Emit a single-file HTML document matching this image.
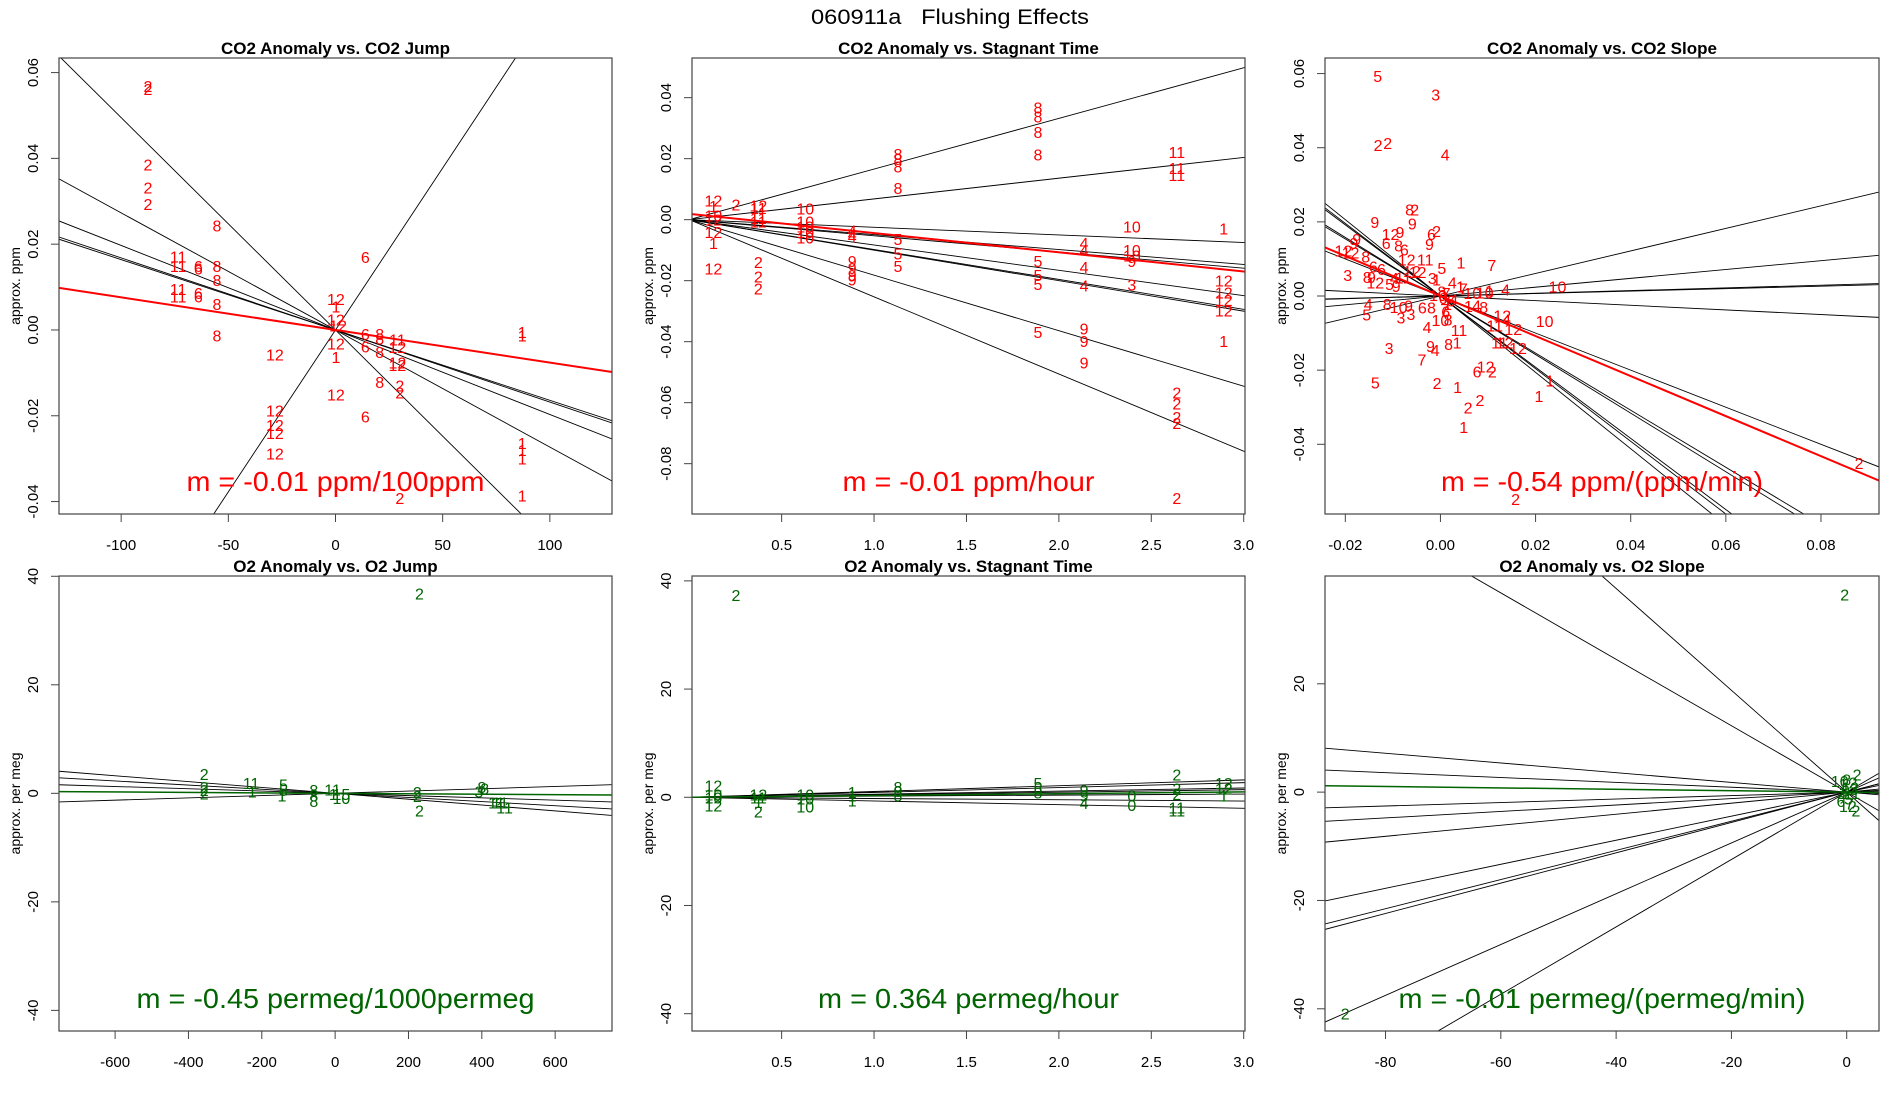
<!DOCTYPE html>
<html><head><meta charset="utf-8"><style>
html,body{margin:0;padding:0;background:#fff;}
svg{display:block;font-family:"Liberation Sans",sans-serif;}
</style></head><body>
<svg id="chart" width="1900" height="1100" viewBox="0 0 1900 1100" xmlns="http://www.w3.org/2000/svg">
<text x="950" y="24" font-size="21" text-anchor="middle" textLength="278" lengthAdjust="spacingAndGlyphs">060911a&#160;&#160;&#160;Flushing Effects</text>
</svg>
<script>
// ---------- Panel 1: CO2 Anomaly vs CO2 Jump ----------
const p1X = [-87.5,-87.5,-87.5,-87.5,-87.5,-55.3,-73.4,-73.4,-64,-64,-55.3,-55.3,-73.4,-73.4,-64,-64,-55.3,-55.3,13.9,0.2,0.2,0.2,1.2,0.2,0.2,-28.3,0.2,-28.3,-28.3,-28.3,-28.3,13.9,13.9,13.9,20.6,20.6,20.6,20.6,28.9,28.9,28.9,28.9,30,30,87.1,87.1,87.1,87.1,87.1,87.1,30];
const p1Y = [0.0569,0.0562,0.0386,0.0332,0.0294,0.0243,0.0171,0.0149,0.0149,0.0143,0.0149,0.0116,0.0096,0.0078,0.0086,0.0078,0.006,-0.0013,0.017,0.0072,0.0055,0.0024,0.001,-0.0032,-0.0063,-0.0057,-0.015,-0.0188,-0.0221,-0.024,-0.0288,-0.0202,-0.0009,-0.0038,-0.0009,-0.002,-0.0051,-0.0121,-0.0022,-0.004,-0.0076,-0.0082,-0.013,-0.0146,-0.0013,-0.0005,-0.0263,-0.028,-0.03,-0.0386,-0.0392];
const p1Lab = ["2","2","2","2","2","8","11","11","6","6","8","8","11","11","6","6","8","8","6","12","1","12","12","12","1","12","12","12","12","12","12","6","6","6","8","8","8","8","11","12","12","12","2","2","1","1","1","1","1","1","2"];
const p1Slopes = [-0.000495,0.000755,-0.000273,-0.000197,-0.000168,-0.000164];
const p1Fit = [0,-0.000076];
// ---------- Panel 2: CO2 Anomaly vs Stagnant Time ----------
const p2X = [0.131,0.131,0.131,0.131,0.131,0.131,0.131,0.253,0.374,0.374,0.374,0.374,0.374,0.374,0.374,0.628,0.628,0.628,0.628,0.628,0.882,0.882,0.882,0.882,0.882,0.882,0.882,1.129,1.129,1.129,1.129,1.129,1.129,1.129,1.887,1.887,1.887,1.887,1.887,1.887,1.887,1.887,2.136,2.136,2.136,2.136,2.136,2.136,2.136,2.395,2.395,2.395,2.395,2.395,2.638,2.638,2.638,2.638,2.638,2.638,2.638,2.638,2.892,2.892,2.892,2.892,2.892,2.892];
const p2Y = [0.0062,0.0045,0.0014,0,-0.0041,-0.0076,-0.016,0.0049,0.0047,0.0038,0.0006,-0.0006,-0.0138,-0.0187,-0.0226,0.0037,-0.0006,-0.0023,-0.0041,-0.0058,-0.0035,-0.0047,-0.0055,-0.0135,-0.0158,-0.0181,-0.0196,0.0216,0.0199,0.0175,0.0103,-0.0064,-0.0111,-0.0152,0.0368,0.0339,0.0287,0.0214,-0.0135,-0.0181,-0.0211,-0.0368,-0.0076,-0.0099,-0.0156,-0.0216,-0.0357,-0.0398,-0.0468,-0.0023,-0.0099,-0.0117,-0.0135,-0.0213,0.0222,0.017,0.0146,-0.0567,-0.0602,-0.0647,-0.0667,-0.0912,-0.0029,-0.0199,-0.0239,-0.0263,-0.0298,-0.0398];
const p2Lab = ["12","1","10","12","12","1","12","2","12","11","11","11","2","2","2","10","10","10","10","10","4","4","4","9","9","9","9","8","8","8","8","5","5","5","8","8","8","8","5","5","5","5","4","4","4","4","9","9","9","10","10","10","9","3","11","11","11","2","2","2","2","2","1","12","12","12","12","1"];
const p2Slopes = [0.0166,0.0068,-0.0025,-0.0049,-0.0053,-0.0083,-0.0098,-0.0100,-0.0182,-0.0253];
const p2Fit = [0.0019,-0.0063];
// ---------- Panel 3: CO2 Anomaly vs CO2 Slope ----------
const p3X = [-0.0132,-0.001,-0.0131,-0.0111,0.001,-0.0065,-0.0054,-0.0138,-0.0059,-0.0105,-0.0085,-0.0019,-0.0008,-0.0023,-0.0114,-0.0088,-0.0076,-0.0176,-0.0182,-0.0204,-0.0189,-0.0157,-0.0071,-0.0032,0.0043,0.0108,0.0003,-0.0141,-0.0124,-0.006,-0.0048,-0.0195,-0.0154,-0.0145,-0.0137,-0.0107,-0.0093,-0.0097,-0.0078,-0.0017,-0.0008,0.0025,0.0042,0.0048,0.0067,0.0093,0.0103,0.0137,0.0246,-0.0152,-0.0155,-0.0112,-0.0088,-0.0067,-0.0083,-0.0062,-0.0038,-0.0019,-0.0028,0,0.0016,0.0011,0.0039,0.0059,0.0076,0.0091,0.0219,0.013,0.0139,0.0153,0.0114,0.0124,0.0135,0.0163,-0.0021,-0.0011,0.0017,0.0035,-0.0108,-0.0039,0.0095,0.0077,0.0109,-0.0137,-0.0007,0.0036,0.023,0.0207,0.0083,0.0058,0.0049,0.088,0.0158,0.0006,0.0012,0.0022,0.0003,0.0015,0.0028,-0.0005,0.0009];
const p3Y = [0.0593,0.0543,0.0408,0.0413,0.0382,0.0234,0.0234,0.02,0.0196,0.0167,0.0173,0.0167,0.0176,0.014,0.0143,0.0136,0.0126,0.0154,0.0143,0.0123,0.0118,0.0106,0.0099,0.0099,0.009,0.0083,0.0075,0.008,0.0073,0.0068,0.0065,0.0056,0.0051,0.0051,0.0037,0.0032,0.0027,0.0048,0.005,0.0048,0.0045,0.0037,0.0025,0.002,0.0008,0.001,0.0015,0.0017,0.0025,-0.0021,-0.005,-0.0021,-0.0029,-0.0026,-0.0058,-0.0048,-0.0031,-0.0031,-0.0084,-0.0065,-0.0063,-0.0042,-0.0092,-0.0027,-0.0025,-0.003,-0.0067,-0.0053,-0.0063,-0.0089,-0.0079,-0.0125,-0.0125,-0.014,-0.0135,-0.0145,-0.013,-0.0125,-0.014,-0.0171,-0.019,-0.0204,-0.0204,-0.0233,-0.0235,-0.0245,-0.0228,-0.027,-0.0281,-0.0301,-0.0354,-0.045,-0.0547,-0.0005,0.0008,-0.0012,0.0012,-0.0022,-0.0009,0.0003,-0.0035];
const p3Lab = ["5","3","2","2","4","8","2","9","9","12","9","6","2","9","6","8","6","9","9","12","12","8","12","11","1","7","5","6","6","12","12","3","8","9","12","5","9","4","11","3","1","4","1","7","10","10","1","4","10","4","5","8","10","9","3","3","6","8","4","10","8","6","11","1","4","8","10","12","4","12","11","11","12","12","9","4","8","1","3","7","12","6","2","5","2","1","1","1","2","2","1","2","2","0","7","6","8","1","4","10","7"];
const p3Slopes = [0.304,0.119,0.0365,0.033,-0.0625,-0.50,-1.03,-0.98,-0.96,-0.79,-0.77];
const p3Fit = [0,-0.54];
// ---------- Panel 4: O2 Anomaly vs O2 Jump ----------
const p4X = [230,-357,-357,-357,-357,-229,-226,-141,-141,-145,-58,-58,-58,-7,-5,17,17,224,224,230,400,408,392,450,462,440];
const p4Y = [36.8,3.55,1.2,0.6,0,1.9,0.3,1.6,0.6,-0.4,0.6,-0.4,-1.4,0.7,-0.1,-0.1,-0.9,0.2,-0.5,-3.2,1.2,0.9,0.3,-1.7,-2.6,-1.7];
const p4Lab = ["2","2","2","2","2","11","1","5","5","1","8","8","8","11","1","15","10","2","2","2","8","8","3","11","11","11"];
const p4Slopes = [-0.0054,-0.0038,-0.0021,0.0021];
const p4Fit = [0,-0.00042];
// ---------- Panel 5: O2 Anomaly vs Stagnant Time ----------
const p5X = [0.253,0.131,0.131,0.131,0.131,0.374,0.374,0.374,0.374,0.628,0.628,0.628,0.882,0.882,0.882,1.129,1.129,1.129,1.887,1.887,1.887,2.136,2.136,2.136,2.395,2.395,2.638,2.638,2.638,2.638,2.638,2.892,2.892,2.892];
const p5Y = [37.4,2.2,0.5,0,-1.5,0.5,0,-0.9,-2.6,0.5,-0.2,-1.7,1,0.3,-0.6,1.9,1.2,0.3,2.6,1.6,0.9,1.3,0.3,-1.1,0.3,-1.4,4.2,1.6,0.6,-1.9,-2.4,2.6,1.6,0.3];
const p5Lab = ["2","12","10","10","12","12","11","1","2","10","10","10","1","1","1","8","8","8","5","5","8","9","9","4","0","0","2","2","2","11","11","12","12","1"];
const p5Slopes = [1.07,0.9,0.57,0.47,0.2,-0.23,-0.68];
const p5Fit = [0,0.33];
// ---------- Panel 6: O2 Anomaly vs O2 Slope ----------
const p6X = [-0.35,-87,1.8,1.6,-1.2,-0.6,0,0.6,1.1,-0.8,0.3,0.9,-0.2,0.5,1.3,-1,0.2];
const p6Y = [36.5,-40.9,3.3,-3.4,2.1,1.5,2.3,0.9,1.8,-0.6,-1.2,-0.2,0.3,-2.1,0.6,-1.6,-2.6];
const p6Lab = ["2","2","2","2","10","1","8","12","2","4","5","11","0","7","3","6","12"];
const p6Slopes = [-0.94,-0.613,-0.0897,-0.045,0.032,0.0595,0.102,0.222,0.269,0.28,0.469,0.622];
const p6Fit = [0,-0.013];

// ---------- tick arrays ----------
const p1XTicks = [-100,-50,0,50,100];
const p1YTicks = [-0.04,-0.02,0,0.02,0.04,0.06];
const p2XTicks = [0.5,1,1.5,2,2.5,3];
const p2YTicks = [-0.08,-0.06,-0.04,-0.02,0,0.02,0.04];
const p3XTicks = [-0.02,0,0.02,0.04,0.06,0.08];
const p3YTicks = [-0.04,-0.02,0,0.02,0.04,0.06];
const p4XTicks = [-600,-400,-200,0,200,400,600];
const p4YTicks = [-40,-20,0,20,40];
const p5XTicks = [0.5,1,1.5,2,2.5,3];
const p5YTicks = [-40,-20,0,20,40];
const p6XTicks = [-80,-60,-40,-20,0];
const p6YTicks = [-40,-20,0,20];

const NS = "http://www.w3.org/2000/svg";
const svg = document.getElementById('chart');
function mk(tag, attrs, parent){ const e=document.createElementNS(NS,tag); for(const k in attrs) e.setAttribute(k,attrs[k]); (parent||svg).appendChild(e); return e; }

const panels = [
 {id:1,L:59,R:612,T:58,B:514,xd:[-129,129],yd:[-0.0429,0.0634],xs:p1X,ys:p1Y,lab:p1Lab,sl:p1Slopes,fit:p1Fit,xt:p1XTicks,yt:p1YTicks,xf:v=>String(v),yf:v=>v.toFixed(2),col:"#ff0000",title:"CO2 Anomaly vs. CO2 Jump",ylab:"approx. ppm",m:"m = -0.01 ppm/100ppm",mw:298,fitW:2},
 {id:2,L:692,R:1245,T:58,B:514,xd:[0.015,3.007],yd:[-0.0965,0.053],xs:p2X,ys:p2Y,lab:p2Lab,sl:p2Slopes,fit:p2Fit,xt:p2XTicks,yt:p2YTicks,xf:v=>v.toFixed(1),yf:v=>v.toFixed(2),col:"#ff0000",title:"CO2 Anomaly vs. Stagnant Time",ylab:"approx. ppm",m:"m = -0.01 ppm/hour",mw:252,fitW:2},
 {id:3,L:1325,R:1879,T:58,B:514,xd:[-0.02427,0.0922],yd:[-0.0588,0.0642],xs:p3X,ys:p3Y,lab:p3Lab,sl:p3Slopes,fit:p3Fit,xt:p3XTicks,yt:p3YTicks,xf:v=>v.toFixed(2),yf:v=>v.toFixed(2),col:"#ff0000",title:"CO2 Anomaly vs. CO2 Slope",ylab:"approx. ppm",m:"m = -0.54 ppm/(ppm/min)",mw:322,fitW:2},
 {id:4,L:59,R:612,T:576,B:1031,xd:[-753,755],yd:[-43.8,40.05],xs:p4X,ys:p4Y,lab:p4Lab,sl:p4Slopes,fit:p4Fit,xt:p4XTicks,yt:p4YTicks,xf:v=>String(v),yf:v=>String(v),col:"#006400",title:"O2 Anomaly vs. O2 Jump",ylab:"approx. per meg",m:"m = -0.45 permeg/1000permeg",mw:398,fitW:1.5},
 {id:5,L:692,R:1245,T:576,B:1031,xd:[0.015,3.007],yd:[-43.2,40.9],xs:p5X,ys:p5Y,lab:p5Lab,sl:p5Slopes,fit:p5Fit,xt:p5XTicks,yt:p5YTicks,xf:v=>v.toFixed(1),yf:v=>String(v),col:"#006400",title:"O2 Anomaly vs. Stagnant Time",ylab:"approx. per meg",m:"m = 0.364 permeg/hour",mw:301,fitW:1.5},
 {id:6,L:1325,R:1879,T:576,B:1031,xd:[-90.5,5.6],yd:[-44.1,39.9],xs:p6X,ys:p6Y,lab:p6Lab,sl:p6Slopes,fit:p6Fit,xt:p6XTicks,yt:p6YTicks,xf:v=>String(v),yf:v=>String(v),col:"#006400",title:"O2 Anomaly vs. O2 Slope",ylab:"approx. per meg",m:"m = -0.01 permeg/(permeg/min)",mw:407,fitW:1.5}
];

const defs = mk('defs',{});
panels.forEach(p=>{
  const sx = v => p.L + (v-p.xd[0])/(p.xd[1]-p.xd[0])*(p.R-p.L);
  const sy = v => p.B - (v-p.yd[0])/(p.yd[1]-p.yd[0])*(p.B-p.T);
  const cp = mk('clipPath',{id:'clip'+p.id},defs);
  mk('rect',{x:p.L,y:p.T,width:p.R-p.L,height:p.B-p.T},cp);
  const g = mk('g',{});
  
  
  const cx = (p.L+p.R)/2, cy=(p.T+p.B)/2;
  const t = mk('text',{x:cx,y:p.T-4,'font-size':17,'font-weight':'bold','text-anchor':'middle'},g);
  t.textContent = p.title;
  
  
  const yl = mk('text',{x:0,y:0,'font-size':14,'text-anchor':'middle',transform:`translate(${p.L-39},${cy}) rotate(-90)`},g);
  yl.textContent = p.ylab;
  
  
  const xa = mk('g',{},g);
  
  
  mk('line',{x1:sx(p.xt[0]),x2:sx(p.xt[p.xt.length-1]),y1:p.B,y2:p.B,stroke:'#444'},xa);
  p.xt.forEach(v=>{
    mk('line',{x1:sx(v),x2:sx(v),y1:p.B,y2:p.B+8,stroke:'#444'},xa);
    const tl = mk('text',{x:sx(v),y:p.B+36,'font-size':15,'text-anchor':'middle'},xa);
    tl.textContent = p.xf(v);
    
    
  });
  const ya = mk('g',{},g);
  
  
  mk('line',{x1:p.L,x2:p.L,y1:sy(p.yt[0]),y2:sy(p.yt[p.yt.length-1]),stroke:'#444'},ya);
  p.yt.forEach(v=>{
    mk('line',{x1:p.L-8,x2:p.L,y1:sy(v),y2:sy(v),stroke:'#444'},ya);
    const tl = mk('text',{x:0,y:0,'font-size':15,'text-anchor':'middle',transform:`translate(${p.L-21},${sy(v)}) rotate(-90)`},ya);
    tl.textContent = p.yf(v);
    
    
  });
  const cg = mk('g',{'clip-path':`url(#clip${p.id})`},g);
  p.sl.forEach(s=>{
    const l = mk('line',{x1:sx(p.xd[0]),y1:sy(s*p.xd[0]),x2:sx(p.xd[1]),y2:sy(s*p.xd[1]),stroke:'#000','stroke-width':0.9},cg);
    
    
  });
  const fl = mk('line',{x1:sx(p.xd[0]),y1:sy(p.fit[0]+p.fit[1]*p.xd[0]),x2:sx(p.xd[1]),y2:sy(p.fit[0]+p.fit[1]*p.xd[1]),stroke:p.col,'stroke-width':p.fitW},cg);
  
  
  p.xs.forEach((x,i)=>{
    const pt = mk('text',{x:sx(x),y:sy(p.ys[i])+6,'font-size':16,fill:p.col,'text-anchor':'middle'},cg);
    pt.textContent = p.lab[i];
    
    
  });
  const mt = mk('text',{x:cx,y:p.B-23,'font-size':28,fill:p.col,'text-anchor':'middle',textLength:p.mw,lengthAdjust:'spacingAndGlyphs'},g);
  mt.textContent = p.m;
  
  
  const bx = mk('rect',{x:p.L,y:p.T,width:p.R-p.L,height:p.B-p.T,fill:'none',stroke:'#444','stroke-width':1.2},g);
  
  
});
</script>
</body></html>
